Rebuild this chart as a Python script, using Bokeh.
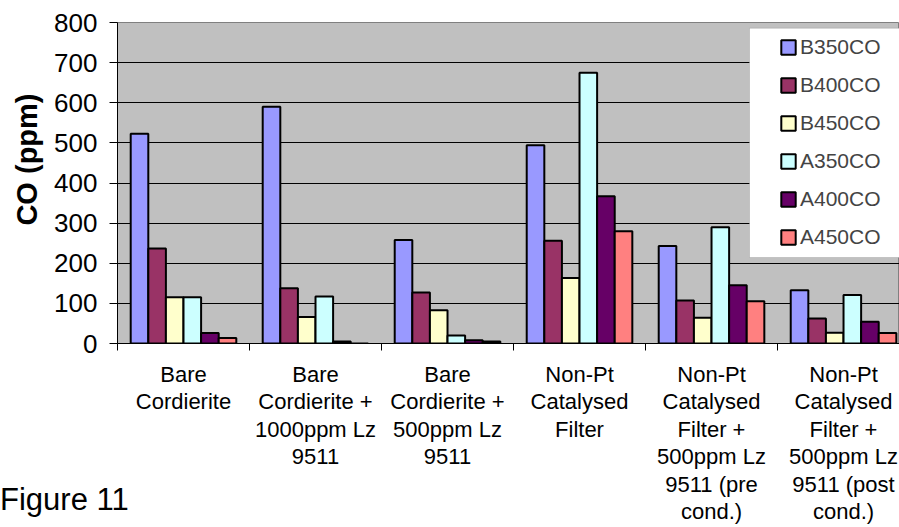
import math
from bokeh.plotting import figure
from bokeh.models import (ColumnDataSource, FixedTicker, Legend, LegendItem,
                          BoxAnnotation, Range1d, Title, Div)
from bokeh.layouts import column
from bokeh.transform import dodge
from bokeh.embed import file_html
from bokeh.resources import INLINE

# ---------------- data ----------------
categories = [
    "Bare\nCordierite",
    "Bare\nCordierite +\n1000ppm Lz\n9511",
    "Bare\nCordierite +\n500ppm Lz\n9511",
    "Non-Pt\nCatalysed\nFilter",
    "Non-Pt\nCatalysed\nFilter +\n500ppm Lz\n9511 (pre\ncond.)",
    "Non-Pt\nCatalysed\nFilter +\n500ppm Lz\n9511 (post\ncond.)",
]
series_names = ["B350CO", "B400CO", "B450CO", "A350CO", "A400CO", "A450CO"]
B350CO = [523, 590, 258, 494, 243, 133]
B400CO = [237, 138, 127, 256, 107, 62]
B450CO = [115, 66, 83, 163, 64, 27]
A350CO = [115, 117, 20, 675, 290, 121]
A400CO = [26, 5, 8, 367, 145, 54]
A450CO = [14, 0, 5, 280, 105, 26]
y_ticks = [0, 100, 200, 300, 400, 500, 600, 700, 800]
colors = ["#9999FF", "#993366", "#FFFFCC", "#CCFFFF", "#660066", "#FF8080"]
y_title = "CO (ppm)"
caption = "Figure 11"

FONT = "Liberation Sans"

pos = list(range(len(categories)))
src = ColumnDataSource(dict(x=pos, B350CO=B350CO, B400CO=B400CO, B450CO=B450CO,
                            A350CO=A350CO, A400CO=A400CO, A450CO=A450CO))

p = figure(width=899, height=527, output_backend="svg", toolbar_location=None,
           x_range=Range1d(-0.5, 5.424), y_range=Range1d(0, 800),
           min_border_left=117, min_border_right=0, min_border_top=22,
           min_border_bottom=183)
p.background_fill_color = "#C0C0C0"
p.border_fill_color = "white"
p.outline_line_color = "#808080"
p.outline_line_width = 1

bar_w = 1 / 7.5
renderers = []
for j, name in enumerate(series_names):
    off = (j - 2.5) * bar_w
    r = p.vbar(x=dodge("x", off, range=p.x_range), top=name, width=bar_w,
               bottom=0, source=src, fill_color=colors[j], line_color="black",
               line_width=2)
    renderers.append(r)

# axes
p.xgrid.visible = False
p.ygrid.grid_line_color = "black"
p.ygrid.grid_line_width = 1
p.ygrid.ticker = FixedTicker(ticks=y_ticks)

ya = p.yaxis[0]
ya.ticker = FixedTicker(ticks=y_ticks)
ya.major_tick_out = 8
ya.major_tick_in = 0
ya.minor_tick_line_color = None
ya.major_label_standoff = 12
ya.major_label_text_font = FONT
ya.major_label_text_font_size = "26px"
ya.major_label_text_color = "black"
ya.axis_line_color = "black"

xa = p.xaxis[0]
xa.ticker = FixedTicker(ticks=pos, minor_ticks=[i - 0.5 for i in range(len(categories) + 1)])
xa.major_label_overrides = {i: c for i, c in zip(pos, categories)}
xa.major_tick_line_color = None
xa.major_tick_out = 0
xa.major_tick_in = 0
xa.minor_tick_out = 7
xa.minor_tick_in = 0
xa.minor_tick_line_color = "black"
xa.major_label_standoff = 11
xa.major_label_text_font = FONT
xa.major_label_text_font_size = "22px"
xa.major_label_text_line_height = 1.1
xa.major_label_text_color = "black"
xa.axis_line_color = "black"

# y-axis title
p.add_layout(Title(text=y_title, align="right", offset=71, standoff=14,
                   vertical_align="top",
                   text_font=FONT, text_font_size="29px", text_font_style="bold",
                   text_color="black"), "left")

# legend box
p.add_layout(BoxAnnotation(left=749, right=915, top=27.7, bottom=257,
                           left_units="canvas", right_units="canvas",
                           top_units="canvas", bottom_units="canvas",
                           fill_color="white", fill_alpha=1,
                           line_color="#808080", line_width=1))

items = [LegendItem(label=n, renderers=[r]) for n, r in zip(series_names, renderers)]
legend = Legend(items=items, location=(662, 94), padding=0, spacing=14,
                glyph_width=18, glyph_height=18, label_standoff=3,
                label_text_font=FONT, label_text_font_size="21px",
                border_line_color=None, background_fill_alpha=0, margin=0)
p.add_layout(legend)

# figure caption (outside the plot frame, overlaid)
cap = Div(text=caption, width=200, height=36,
          styles={"position": "absolute", "left": "0px", "top": "482px",
                  "font-family": FONT, "font-size": "31px", "color": "black",
                  "line-height": "normal", "margin": "0px", "padding": "0px"})

layout = column(p, cap)
open("out.html", "w").write(file_html(layout, INLINE))
